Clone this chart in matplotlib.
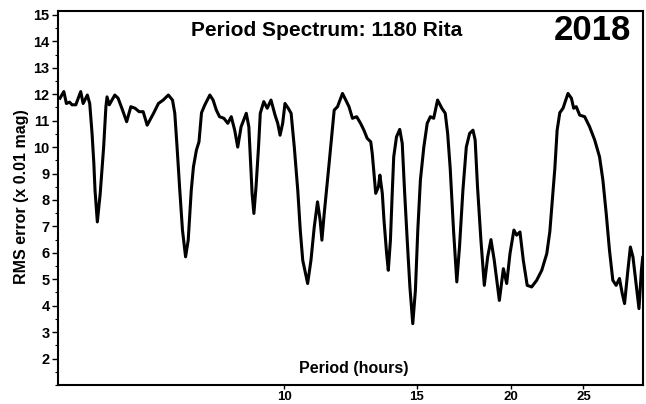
import matplotlib
matplotlib.use("Agg")
import matplotlib.pyplot as plt
import matplotlib.ticker as ticker

# Période (heures) et erreur RMS (x 0.01 mag)
period = [
    5.03, 5.09, 5.13, 5.18, 5.22, 5.28, 5.36, 5.40, 5.47, 5.51,
    5.55, 5.58, 5.60, 5.64, 5.69, 5.75, 5.79, 5.81, 5.85, 5.95,
    6.01, 6.08, 6.17, 6.25, 6.33, 6.41, 6.49, 6.57, 6.70, 6.80,
    6.90, 7.01, 7.10, 7.15, 7.20, 7.26, 7.32, 7.39, 7.45, 7.52,
    7.57, 7.64, 7.70, 7.76, 7.84, 7.96, 8.04, 8.12, 8.20, 8.31,
    8.41, 8.50, 8.59, 8.67, 8.76, 8.90, 8.97, 9.02, 9.06, 9.11,
    9.17, 9.24, 9.29, 9.39, 9.49, 9.60, 9.72, 9.80, 9.87, 9.95,
    10.02, 10.12, 10.21, 10.31, 10.42, 10.50, 10.58, 10.74, 10.85, 10.96,
    11.07, 11.16, 11.22, 11.30, 11.47, 11.65, 11.77, 11.95, 12.07, 12.19,
    12.32, 12.48, 12.63, 12.76, 12.89, 13.03, 13.09, 13.16, 13.23, 13.34,
    13.40, 13.50, 13.57, 13.68, 13.75, 13.84, 13.91, 13.98, 14.10, 14.24,
    14.35, 14.45, 14.57, 14.69, 14.82, 14.94, 15.05, 15.17, 15.33, 15.49,
    15.64, 15.80, 15.99, 16.20, 16.37, 16.49, 16.62, 16.79, 16.96, 17.10,
    17.28, 17.46, 17.64, 17.82, 17.94, 18.07, 18.26, 18.45, 18.64, 18.83,
    19.02, 19.32, 19.56, 19.76, 19.96, 20.20, 20.37, 20.58, 20.79, 21.04,
    21.33, 21.66, 22.00, 22.34, 22.55, 22.90, 23.06, 23.25, 23.48, 23.84,
    24.09, 24.26, 24.45, 24.71, 25.09, 25.47, 25.87, 26.26, 26.53, 26.80,
    27.07, 27.35, 27.63, 27.91, 28.15, 28.35, 28.64, 28.86, 29.09, 29.40,
    29.63, 29.85, 29.97,
]
rms = [
    11.85, 12.10, 11.65, 11.70, 11.60, 11.60, 12.10, 11.65, 11.97, 11.65,
    10.50, 9.38, 8.37, 7.17, 8.25, 10.00, 11.53, 11.90, 11.60, 11.97,
    11.85, 11.47, 10.96, 11.53, 11.47, 11.34, 11.34, 10.83, 11.28, 11.65,
    11.78, 11.97, 11.78, 11.28, 10.00, 8.37, 6.86, 5.85, 6.48, 8.37,
    9.25, 9.89, 10.20, 11.30, 11.60, 11.97, 11.78, 11.40, 11.15, 11.09,
    10.90, 11.15, 10.64, 10.00, 10.77, 11.28, 10.77, 9.38, 8.25, 7.49,
    8.50, 10.00, 11.28, 11.72, 11.47, 11.78, 11.21, 10.90, 10.45, 10.90,
    11.65, 11.47, 11.28, 10.00, 8.37, 6.86, 5.72, 4.84, 5.72, 6.98,
    7.93, 7.23, 6.48, 7.49, 9.38, 11.40, 11.53, 12.03, 11.78, 11.53,
    11.09, 11.15, 10.90, 10.64, 10.33, 10.20, 9.76, 9.00, 8.25, 8.50,
    8.94, 8.25, 7.23, 5.97, 5.34, 6.48, 8.12, 9.63, 10.39, 10.67,
    10.14, 8.37, 6.48, 4.71, 3.32, 4.58, 6.86, 8.75, 10.00, 10.90,
    11.15, 11.09, 11.78, 11.47, 11.28, 10.52, 9.20, 6.86, 4.90, 6.22,
    8.37, 10.00, 10.52, 10.64, 10.27, 8.50, 6.48, 4.77, 5.84, 6.50,
    5.72, 4.20, 5.40, 4.84, 5.97, 6.86, 6.67, 6.79, 5.72, 4.77,
    4.71, 4.96, 5.34, 5.97, 6.80, 9.20, 10.64, 11.30, 11.47, 12.03,
    11.85, 11.47, 11.53, 11.21, 11.15, 10.77, 10.27, 9.63, 8.75, 7.49,
    6.10, 4.96, 4.77, 5.03, 4.46, 4.08, 5.34, 6.22, 5.84, 4.71,
    3.89, 5.34, 5.83,
]

x_ticks = [10, 15, 20, 25]
y_ticks = list(range(2, 16))

plt.rcParams["font.family"] = ["Liberation Sans", "DejaVu Sans"]
plt.rcParams["font.weight"] = "bold"

fig = plt.figure(figsize=(6.46, 4.04), dpi=100)
ax = fig.add_axes([0.0898, 0.047, 0.9056, 0.9265])

ax.plot(period, rms, color="black", linewidth=2.2, solid_joinstyle="round")

ax.set_xscale("log")
ax.set_xlim(5.0, 30.0)
ax.set_ylim(1, 15.16)

ax.xaxis.set_major_locator(ticker.FixedLocator(x_ticks))
ax.xaxis.set_major_formatter(ticker.FixedFormatter([str(t) for t in x_ticks]))
ax.xaxis.set_minor_locator(ticker.NullLocator())
ax.yaxis.set_major_locator(ticker.FixedLocator(y_ticks))
ax.yaxis.set_minor_locator(ticker.MultipleLocator(0.5))

ax.tick_params(axis="y", which="major", direction="out", length=4,
               width=1, labelsize=10.5, pad=2)
ax.tick_params(axis="x", which="major", direction="out", length=3,
               width=1, labelsize=9.5, pad=1)
ax.tick_params(axis="y", which="minor", direction="out", length=2, width=0.8)
for lab in ax.get_xticklabels() + ax.get_yticklabels():
    lab.set_fontweight("bold")

for sp in ax.spines.values():
    sp.set_linewidth(1.5)

ax.text(0.46, 0.947, "Period Spectrum: 1180 Rita", transform=ax.transAxes,
        ha="center", va="center", fontsize=15, fontweight="bold")
ax.text(0.979, 0.947, "2018", transform=ax.transAxes,
        ha="right", va="center", fontsize=25, fontweight="bold")
ax.text(0.505, 0.043, "Period (hours)", transform=ax.transAxes,
        ha="center", va="center", fontsize=11.5, fontweight="bold")
fig.text(22 / 646, 1 - 197 / 404, "RMS error (x 0.01 mag)", rotation=90,
         ha="center", va="center", fontsize=11.5, fontweight="bold")

fig.savefig("out.png", dpi=100)
